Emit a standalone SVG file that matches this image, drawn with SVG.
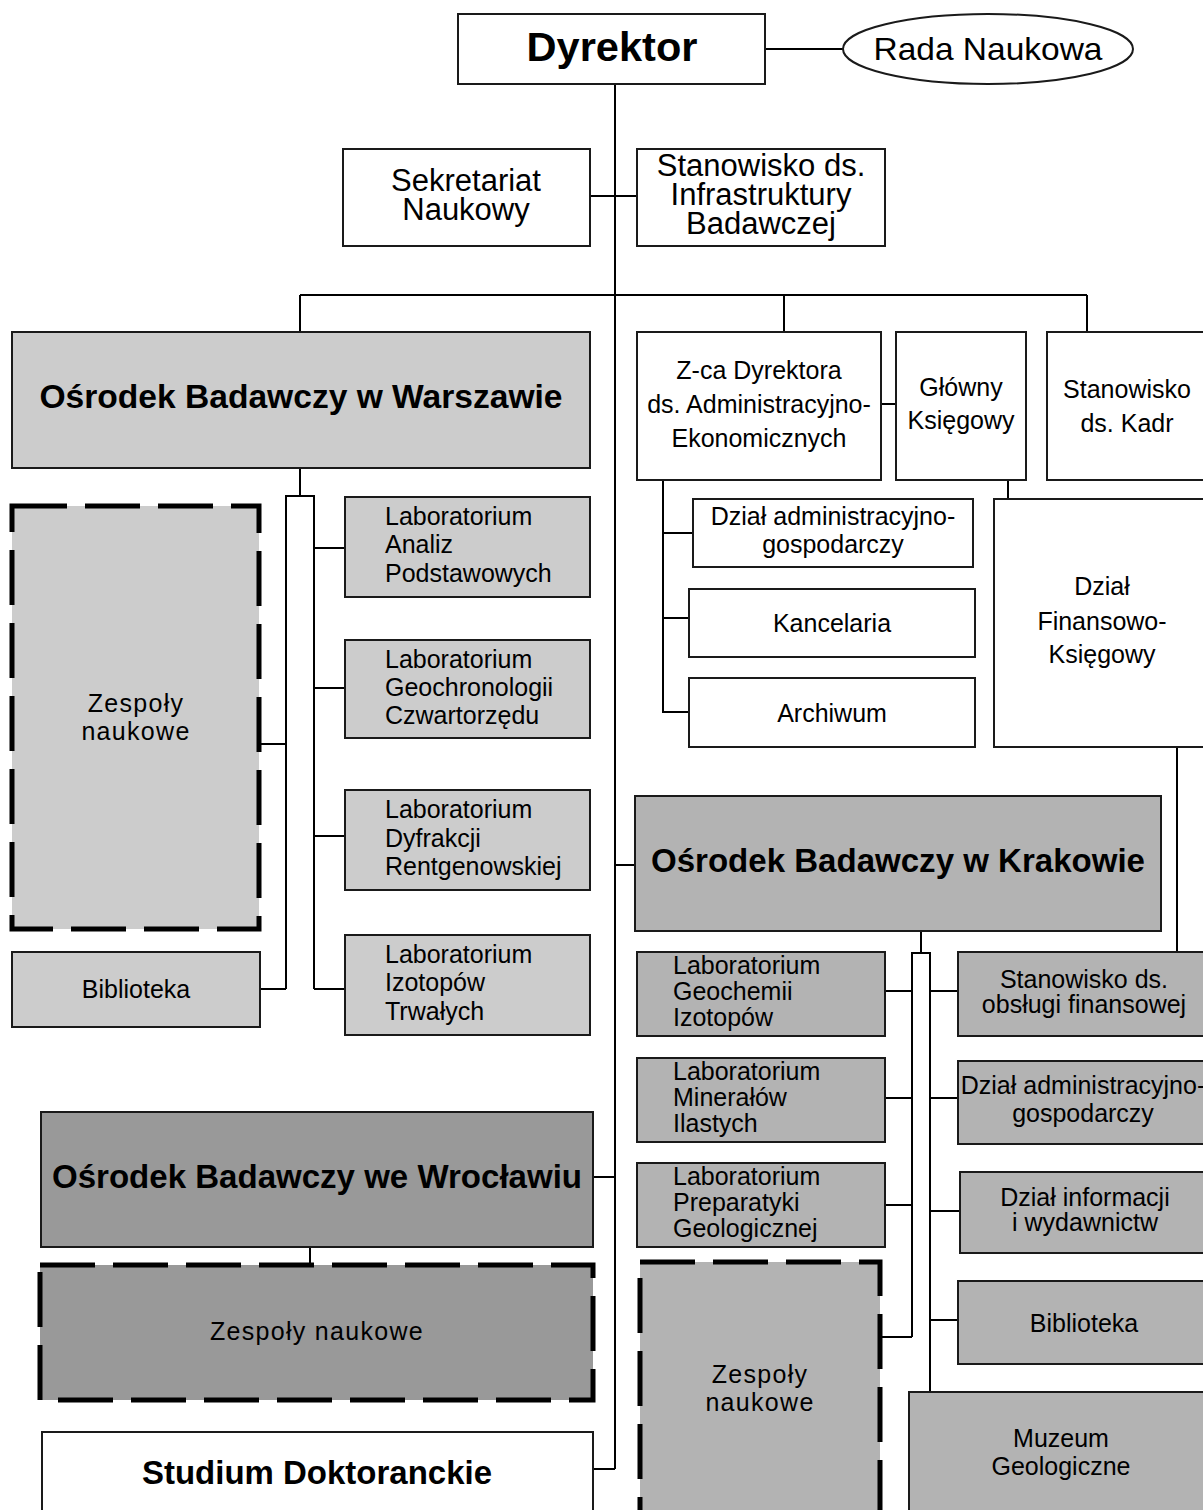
<svg xmlns="http://www.w3.org/2000/svg" width="1203" height="1510" viewBox="0 0 1203 1510">
<style>
text{font-family:"Liberation Sans",Arial,sans-serif;fill:#000;font-size:25px}
.c{text-anchor:middle}
.t{font-weight:bold;font-size:33px}
.lg{font-size:31px}
.lab{font-size:25px}
.z{font-size:25px;letter-spacing:1.3px}
.b{stroke:#1a1a1a;stroke-width:2}
.w{fill:#fff}
.g1{fill:#cccccc}
.g2{fill:#b3b3b3}
.g3{fill:#999999}
.d{stroke:#000;stroke-width:5;stroke-dasharray:55 18}
.conn path{fill:none;stroke:#000;stroke-width:2}
</style>
<rect width="1203" height="1510" fill="#fff"/>
<g class="conn">
<path d="M765,49H843"/>
<path d="M615,84V1469"/>
<path d="M590,196H637"/>
<path d="M300,295H1087"/>
<path d="M300,295V332M784,295V332M1087,295V332"/>
<path d="M300,468V496"/>
<path d="M286,989V496H314V989"/>
<path d="M260,744H286M260,989H286"/>
<path d="M314,548H345M314,688H345M314,836H345M314,989H345"/>
<path d="M881,404H896"/>
<path d="M663,480V712H689M663,533H693M663,618H689"/>
<path d="M1008,480V499"/>
<path d="M1177,747V952"/>
<path d="M615,865H635"/>
<path d="M921,931V953"/>
<path d="M912,1337V953H930V1392"/>
<path d="M885,991H912M885,1098H912M885,1205H912M872,1337H912"/>
<path d="M930,991H958M930,1098H958M930,1211H960M930,1320H958"/>
<path d="M593,1177H615"/>
<path d="M593,1469H615"/>
<path d="M310,1247V1265"/>
</g>
<g id="dyrektor"><rect x="458" y="14" width="307" height="70" class="b w"/><text x="612" y="61" class="c t" style="font-size:41px" textLength="171" lengthAdjust="spacingAndGlyphs">Dyrektor</text></g>
<g id="rada"><ellipse cx="988" cy="49" rx="145" ry="35" class="b w"/><text x="988" y="60" class="c" style="font-size:32px" textLength="229" lengthAdjust="spacingAndGlyphs">Rada Naukowa</text></g>
<g id="sekretariat"><rect x="343" y="149" width="247" height="97" class="b w"/><text x="466" y="191" class="c lg">Sekretariat</text><text x="466" y="220" class="c lg">Naukowy</text></g>
<g id="infrastruktura"><rect x="637" y="149" width="248" height="97" class="b w"/><text x="761" y="176" class="c lg">Stanowisko ds.</text><text x="761" y="205" class="c lg">Infrastruktury</text><text x="761" y="234" class="c lg">Badawczej</text></g>
<g id="warszawa"><rect x="12" y="332" width="578" height="136" class="b g1"/><text x="301" y="408" class="c t" textLength="523" lengthAdjust="spacingAndGlyphs">Ośrodek Badawczy w Warszawie</text></g>
<g id="zespoly-waw"><rect x="12" y="506" width="247" height="423" class="d g1"/><text x="136" y="712" class="c z">Zespoły</text><text x="136" y="740" class="c z">naukowe</text></g>
<g id="biblioteka-waw"><rect x="12" y="952" width="248" height="75" class="b g1"/><text x="136" y="998" class="c">Biblioteka</text></g>
<g id="lab-analiz"><rect x="345" y="497" width="245" height="100" class="b g1"/><text x="385" y="525" class="lab">Laboratorium</text><text x="385" y="553" class="lab">Analiz</text><text x="385" y="582" class="lab">Podstawowych</text></g>
<g id="lab-geochron"><rect x="345" y="640" width="245" height="98" class="b g1"/><text x="385" y="668" class="lab">Laboratorium</text><text x="385" y="696" class="lab">Geochronologii</text><text x="385" y="724" class="lab">Czwartorzędu</text></g>
<g id="lab-dyfrakcji"><rect x="345" y="790" width="245" height="100" class="b g1"/><text x="385" y="818" class="lab">Laboratorium</text><text x="385" y="847" class="lab">Dyfrakcji</text><text x="385" y="875" class="lab">Rentgenowskiej</text></g>
<g id="lab-izotopow"><rect x="345" y="935" width="245" height="100" class="b g1"/><text x="385" y="963" class="lab">Laboratorium</text><text x="385" y="991" class="lab">Izotopów</text><text x="385" y="1020" class="lab">Trwałych</text></g>
<g id="zca"><rect x="637" y="332" width="244" height="148" class="b w"/><text x="759" y="379" class="c">Z-ca Dyrektora</text><text x="759" y="413" class="c">ds. Administracyjno-</text><text x="759" y="447" class="c">Ekonomicznych</text></g>
<g id="glowny"><rect x="896" y="332" width="130" height="148" class="b w"/><text x="961" y="396" class="c">Główny</text><text x="961" y="429" class="c">Księgowy</text></g>
<g id="kadry"><rect x="1047" y="332" width="170" height="148" class="b w"/><text x="1127" y="398" class="c">Stanowisko</text><text x="1127" y="432" class="c">ds. Kadr</text></g>
<g id="dzial-adm"><rect x="693" y="499" width="280" height="68" class="b w"/><text x="833" y="525" class="c">Dział administracyjno-</text><text x="833" y="553" class="c">gospodarczy</text></g>
<g id="kancelaria"><rect x="689" y="589" width="286" height="68" class="b w"/><text x="832" y="632" class="c">Kancelaria</text></g>
<g id="archiwum"><rect x="689" y="678" width="286" height="69" class="b w"/><text x="832" y="722" class="c">Archiwum</text></g>
<g id="finansowy"><rect x="994" y="499" width="222" height="248" class="b w"/><text x="1102" y="595" class="c">Dział</text><text x="1102" y="630" class="c">Finansowo-</text><text x="1102" y="663" class="c">Księgowy</text></g>
<g id="krakow"><rect x="635" y="796" width="526" height="135" class="b g2"/><text x="898" y="872" class="c t" textLength="494" lengthAdjust="spacingAndGlyphs">Ośrodek Badawczy w Krakowie</text></g>
<g id="lab-geochemii"><rect x="637" y="952" width="248" height="84" class="b g2"/><text x="673" y="974" class="lab">Laboratorium</text><text x="673" y="1000" class="lab">Geochemii</text><text x="673" y="1026" class="lab">Izotopów</text></g>
<g id="lab-mineralow"><rect x="637" y="1058" width="248" height="84" class="b g2"/><text x="673" y="1080" class="lab">Laboratorium</text><text x="673" y="1106" class="lab">Minerałów</text><text x="673" y="1132" class="lab">Ilastych</text></g>
<g id="lab-preparatyki"><rect x="637" y="1163" width="248" height="84" class="b g2"/><text x="673" y="1185" class="lab">Laboratorium</text><text x="673" y="1211" class="lab">Preparatyki</text><text x="673" y="1237" class="lab">Geologicznej</text></g>
<g id="zespoly-krk"><rect x="640" y="1262" width="240" height="270" class="d g2"/><text x="760" y="1383" class="c z">Zespoły</text><text x="760" y="1411" class="c z">naukowe</text></g>
<g id="obsluga-fin"><rect x="958" y="952" width="258" height="84" class="b g2"/><text x="1084" y="988" class="c">Stanowisko ds.</text><text x="1084" y="1013" class="c">obsługi finansowej</text></g>
<g id="dzial-adm-krk"><rect x="958" y="1061" width="258" height="83" class="b g2"/><text x="1083" y="1094" class="c">Dział administracyjno-</text><text x="1083" y="1122" class="c">gospodarczy</text></g>
<g id="informacji"><rect x="960" y="1172" width="256" height="81" class="b g2"/><text x="1085" y="1206" class="c">Dział informacji</text><text x="1085" y="1231" class="c">i wydawnictw</text></g>
<g id="biblioteka-krk"><rect x="958" y="1281" width="258" height="83" class="b g2"/><text x="1084" y="1332" class="c">Biblioteka</text></g>
<g id="muzeum"><rect x="909" y="1392" width="307" height="140" class="b g2"/><text x="1061" y="1447" class="c">Muzeum</text><text x="1061" y="1475" class="c">Geologiczne</text></g>
<g id="wroclaw"><rect x="41" y="1112" width="552" height="135" class="b g3"/><text x="317" y="1188" class="c t" textLength="530" lengthAdjust="spacingAndGlyphs">Ośrodek Badawczy we Wrocławiu</text></g>
<g id="zespoly-wro"><rect x="40" y="1265" width="553" height="135" class="d g3"/><text x="317" y="1340" class="c z">Zespoły naukowe</text></g>
<g id="studium"><rect x="42" y="1432" width="551" height="100" class="b w"/><text x="317" y="1484" class="c t" textLength="350" lengthAdjust="spacingAndGlyphs">Studium Doktoranckie</text></g>
</svg>
